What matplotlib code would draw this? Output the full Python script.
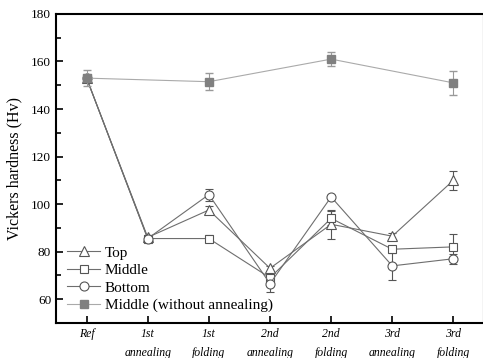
import matplotlib
matplotlib.use("Agg")
import matplotlib.pyplot as plt
from matplotlib.ticker import MultipleLocator

categories = ["Ref", "1st\nannealing", "1st\nfolding", "2nd\nannealing",
              "2nd\nfolding", "3rd\nannealing", "3rd\nfolding"]

top = [153, 86, 97.5, 73, 91.5, 86.5, 110]
top_err = [0, 1, 1.5, 1, 6, 1.5, 4]
middle = [153, 85.5, 85.5, 69, 94, 81, 82]
middle_err = [0, 1, 1.5, 1.5, 3, 1.5, 5.5]
bottom = [153, 85.5, 104, 66.5, 103, 74, 77]
bottom_err = [0, 1, 2.5, 3.5, 1, 6, 2]
noanneal_idx = [0, 2, 4, 6]
noanneal = [153, 151.5, 161, 151]
noanneal_err = [3.5, 3.5, 3, 5]
series_labels = ['Top', 'Middle', 'Bottom', 'Middle (without annealing)']

plt.rcParams['font.family'] = ['Liberation Serif', 'DejaVu Serif']

fig = plt.figure(figsize=(4.83, 3.58), dpi=100)
ax = fig.add_axes([0.116, 0.098, 0.886, 0.863])

x = list(range(len(categories)))
dark = '#6e6e6e'
handles = []
for vals, errs, mk, ms in [(top, top_err, '^', 6.5),
                           (middle, middle_err, 's', 5.5),
                           (bottom, bottom_err, 'o', 6.5)]:
    c = ax.errorbar(x, vals, yerr=errs, color=dark, lw=0.8, marker=mk, ms=ms,
                    mfc='white', mec='#555555', mew=0.8, capsize=3,
                    elinewidth=0.8, ecolor='#555555', zorder=3)
    handles.append(c[0])
c = ax.errorbar(noanneal_idx, noanneal, yerr=noanneal_err, color='#aaaaaa', lw=0.8,
                marker='s', ms=5.5, mfc='#808080', mec='#808080', capsize=3,
                elinewidth=0.8, ecolor='#999999', zorder=4)
handles.append(c[0])

ax.set_xlim(-0.5, 6.5)
ax.set_ylim(50, 180)
ax.set_xticks(x)
ax.set_xticklabels(categories, fontstyle='italic', fontsize=8.5, linespacing=1.75)
ax.yaxis.set_major_locator(MultipleLocator(20))
ax.yaxis.set_minor_locator(MultipleLocator(10))
ax.tick_params(axis='y', which='major', direction='in', length=5, width=1.2, labelsize=9.5)
ax.tick_params(axis='y', which='minor', direction='in', length=3.5, width=1.2)
ax.tick_params(axis='x', which='major', direction='in', length=5, width=1.2, pad=4)
ax.set_ylabel('Vickers hardness (Hv)', fontsize=11.5, labelpad=6)

for s in ['left', 'bottom', 'top', 'right']:
    ax.spines[s].set_linewidth(1.5)

ax.legend(handles, series_labels,
          loc='lower left', frameon=False, fontsize=11, handlelength=2.2,
          handletextpad=0.3, labelspacing=0.25, borderaxespad=0.3,
          bbox_to_anchor=(0.0, 0.0))
fig.savefig('out.png', dpi=100)
